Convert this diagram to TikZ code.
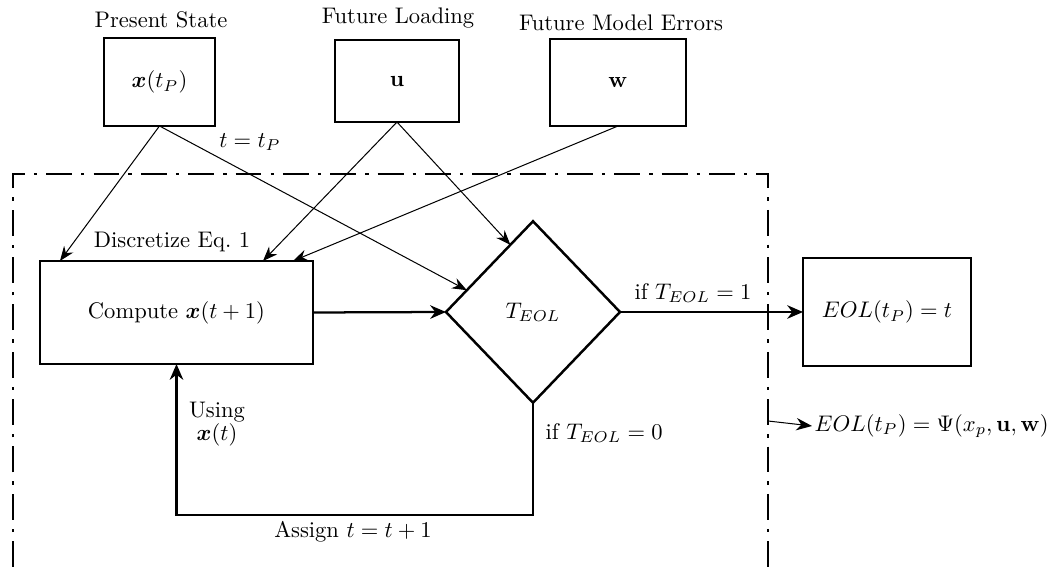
\documentclass[tikz,border=0pt]{standalone}
\usepackage{amsmath}
\usetikzlibrary{arrows.meta,shapes.geometric,calc}
\tikzset{
  box/.style={draw, line width=1.1pt, rectangle, inner sep=0pt, outer sep=0pt},
  dec/.style={draw, line width=1.1pt, diamond, inner sep=0pt, outer sep=0pt, aspect=1},
  lbl/.style={inner sep=1pt},
  thinarrow/.style={-{Stealth[length=6.5pt,width=5pt]}, line width=0.45pt},
  psiarrow/.style={-{Stealth[length=7pt,width=5.5pt]}, line width=0.45pt},
  thickarrow/.style={-{Stealth[length=7pt,width=6pt]}, line width=1pt},
  frame/.style={line width=0.45pt, dash pattern=on 11.5pt off 4pt on 1.5pt off 4pt}
}
\begin{document}
\begin{tikzpicture}[x=0.4435pt, y=-0.4435pt]
\useasboundingbox (0,0) rectangle (1047,567);

% top boxes
\node[box, minimum width=49.2pt, minimum height=39pt] (xs) at (159.5,82) {$\boldsymbol{x}(t_P)$};
\node[box, minimum width=55pt, minimum height=36.4pt] (u) at (397,81) {$\mathbf{u}$};
\node[box, minimum width=60.3pt, minimum height=38.6pt] (w) at (618,82.5) {$\mathbf{w}$};

\node[lbl] (lxs) at (161,20) {Present State};
\node[lbl] (lu) at (398,18) {Future Loading};
\node[lbl] (lw) at (621,23) {Future Model Errors};

% main nodes
\node[box, minimum width=121.1pt, minimum height=45.7pt] (comp) at (176.5,312.5) {Compute $\boldsymbol{x}(t+1)$};
\node[dec, minimum width=77.2pt, minimum height=80.5pt] (d) at (533,312) {$T_{EOL}$};
\node[box, minimum width=74.5pt, minimum height=47.9pt] (eol) at (887,312) {$EOL(t_P)=t$};

% labels
\node[lbl] (ltp) at (250,142) {$t=t_P$};
\node[lbl] (ldisc) at (172,242) {Discretize Eq.~1};
\node[lbl] (lif1) at (693,293) {if $T_{EOL}=1$};
\node[lbl, anchor=west] (lif0) at (543,433) {if $T_{EOL}=0$};
\node[lbl, align=center] (lusing) at (217,424) {Using\\[-2pt]$\boldsymbol{x}(t)$};
\node[lbl] (lassign) at (353,532) {Assign $t=t+1$};

% frame
\draw[frame] (13,567) -- (13,174) -- (768,174) -- (768,567);

% thin arrows from the top boxes
\draw[thinarrow] (xs.south) -- ($(comp.north west)+(20,0)$);
\draw[thinarrow] (xs.south) -- ($(d.west)!0.24!(d.north)$);
\draw[thinarrow] (u.south) -- ($(comp.north west)+(223,0)$);
\draw[thinarrow] (u.south) -- ($(d.west)!0.74!(d.north)$);
\draw[thinarrow] (w.south) -- ($(comp.north west)+(253,0)$);

% thick connectors
\draw[thickarrow] (comp.east) -- (d.west);
\draw[thickarrow] (d.east) -- (eol.west);
\draw[thickarrow] (d.south) -- ++(0,112) -| (comp.south);

% EOL formula
\coordinate (psistart) at (768,421);
\node[anchor=west, inner sep=1pt] (psi) at (812,426) {$EOL(t_P)=\Psi(x_p,\mathbf{u},\mathbf{w})$};
\draw[psiarrow] (psistart) -- (psi.west);
\end{tikzpicture}
\end{document}
